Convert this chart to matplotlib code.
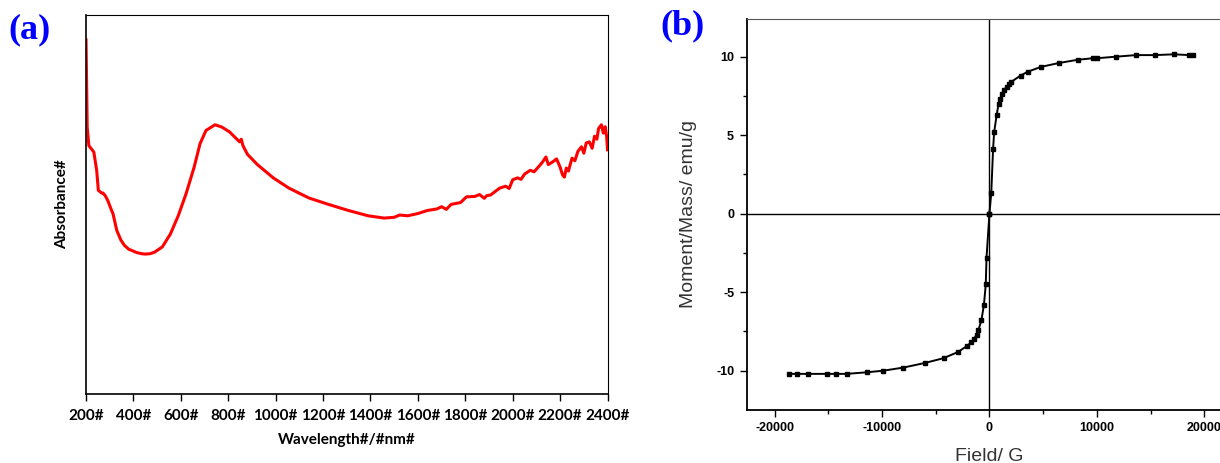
import matplotlib.pyplot as plt

plt.rcParams['axes.unicode_minus'] = False

# (a) absorbance spectrum, arbitrary units
wavelength = [200, 203, 205, 212, 222, 233, 245, 252, 266, 272, 282, 292, 303, 314,
              330, 347, 362, 380, 414, 435, 449, 470, 489, 522, 556, 589, 622, 656,
              681, 706, 744, 773, 806, 830, 848, 855, 862, 881, 923, 990, 1056, 1140,
              1223, 1307, 1390, 1457, 1500, 1523, 1557, 1600, 1640, 1680, 1700, 1720,
              1740, 1780, 1805, 1840, 1860, 1880, 1890, 1907, 1945, 1970, 1985,
              2000, 2020, 2035, 2050, 2074, 2090, 2110, 2126, 2140, 2150, 2168,
              2185, 2200, 2210, 2218, 2226, 2235, 2250, 2262, 2275, 2290, 2300,
              2310, 2323, 2335, 2345, 2355, 2362, 2374, 2382, 2390, 2396, 2400]
absorbance = [0.934, 0.80, 0.704, 0.655, 0.647, 0.638, 0.590, 0.537, 0.530, 0.530,
              0.522, 0.510, 0.492, 0.475, 0.431, 0.406, 0.392, 0.382, 0.373, 0.370,
              0.369, 0.370, 0.374, 0.388, 0.422, 0.470, 0.528, 0.598, 0.660, 0.695,
              0.710, 0.704, 0.691, 0.676, 0.665, 0.672, 0.655, 0.632, 0.605, 0.570,
              0.543, 0.517, 0.500, 0.484, 0.470, 0.464, 0.466, 0.472, 0.470, 0.476,
              0.484, 0.488, 0.494, 0.487, 0.500, 0.505, 0.520, 0.521, 0.526, 0.516,
              0.523, 0.525, 0.543, 0.548, 0.542, 0.565, 0.570, 0.566, 0.580, 0.590,
              0.586, 0.600, 0.612, 0.625, 0.605, 0.612, 0.620, 0.598, 0.578, 0.572,
              0.596, 0.588, 0.622, 0.615, 0.640, 0.652, 0.635, 0.662, 0.665, 0.648,
              0.680, 0.672, 0.700, 0.710, 0.688, 0.705, 0.680, 0.644]
wl_ticks = [200, 400, 600, 800, 1000, 1200, 1400, 1600, 1800, 2000, 2200, 2400]

# (b) magnetization curve
field_pos = [0, 170, 340, 440, 680, 850, 1000, 1200, 1400, 1600, 1800, 2050, 2900,
             3600, 4800, 6500, 8200, 9600, 10000, 11800, 13650, 15400, 17200,
             18600, 18950]
moment_pos = [0.0, 1.3, 4.1, 5.2, 6.3, 7.0, 7.3, 7.6, 7.9, 8.1, 8.25, 8.4, 8.8,
              9.05, 9.35, 9.6, 9.8, 9.9, 9.9, 10.0, 10.1, 10.1, 10.15, 10.1, 10.1]
field_neg = [0, -270, -340, -510, -750, -1020, -1200, -1430, -1700, -2050, -2900,
             -4270, -5970, -8020, -9900, -11430, -13300, -14270, -15090, -16900,
             -17920, -18670]
moment_neg = [0.0, -2.8, -4.5, -5.8, -6.8, -7.4, -7.7, -8.0, -8.2, -8.4, -8.8,
              -9.2, -9.5, -9.8, -10.0, -10.1, -10.2, -10.2, -10.2, -10.2, -10.2,
              -10.2]

fig = plt.figure(figsize=(12.2, 4.63), dpi=100)

# ---- panel (a)
ax1 = fig.add_axes([0.0705, 0.149, 0.4275, 0.819])
ax1.plot(wavelength, absorbance, color='#ff0000', lw=2.2)
ax1.set_xlim(200, 2400)
ax1.set_ylim(0, 1)
ax1.set_xticks(wl_ticks)
ax1.set_xticklabels([f'{w}#' for w in wl_ticks], fontfamily='Lato',
                    fontweight='bold', fontsize=11)
ax1.set_yticks([])
ax1.tick_params(axis='x', direction='out', length=5, width=1, pad=6)
for s in ['top', 'right']:
    ax1.spines[s].set_linewidth(0.8)
ax1.spines['left'].set_linewidth(1.2)
ax1.spines['bottom'].set_linewidth(1.2)
ax1.set_xlabel('Wavelength#/#nm#', fontfamily='Lato', fontweight='bold',
               fontsize=11, labelpad=7)
ax1.set_ylabel('Absorbance#', fontfamily='Lato', fontweight='bold',
               fontsize=11, labelpad=12)
fig.text(0.007, 0.935, '(a)', color='#0000ff', fontfamily='Liberation Serif',
         fontweight='bold', fontsize=26, va='center')

# ---- panel (b), runs off the right edge like the original
ax2 = fig.add_axes([0.612, 0.1145, 0.398, 0.8445])
ax2.plot(field_neg[::-1] + field_pos, moment_neg[::-1] + moment_pos, color='black',
         lw=1.4, marker='s', ms=2.2)
ax2.axhline(0, color='black', lw=1)
ax2.axvline(0, color='black', lw=1)
ax2.set_xlim(-22600, 22600)
ax2.set_ylim(-12.5, 12.4)
ax2.set_xticks([-20000, -10000, 0, 10000, 20000])
ax2.set_xticks([-15000, -5000, 5000, 15000], minor=True)
ax2.set_yticks([-10, -5, 0, 5, 10])
ax2.set_yticks([-7.5, -2.5, 2.5, 7.5], minor=True)
for lab in ax2.get_xticklabels() + ax2.get_yticklabels():
    lab.set_fontfamily('Liberation Sans')
    lab.set_fontweight('bold')
    lab.set_fontsize(9)
ax2.tick_params(which='major', direction='out', length=5, width=1, pad=4)
ax2.tick_params(which='minor', direction='out', length=3, width=1)
ax2.spines['left'].set_linewidth(1.3)
ax2.spines['bottom'].set_linewidth(1.3)
ax2.spines['top'].set_linewidth(0.8)
ax2.spines['top'].set_color('#555555')
ax2.set_xlabel('Field/ G', fontfamily='Liberation Sans', fontsize=14,
               color='#333333', labelpad=10)
ax2.set_ylabel('Moment/Mass/ emu/g', fontfamily='Liberation Sans', fontsize=14,
               color='#333333', labelpad=14)
fig.text(0.541, 0.945, '(b)', color='#0000ff', fontfamily='Liberation Serif',
         fontweight='bold', fontsize=26, va='center')

fig.savefig('out.png', dpi=100)
